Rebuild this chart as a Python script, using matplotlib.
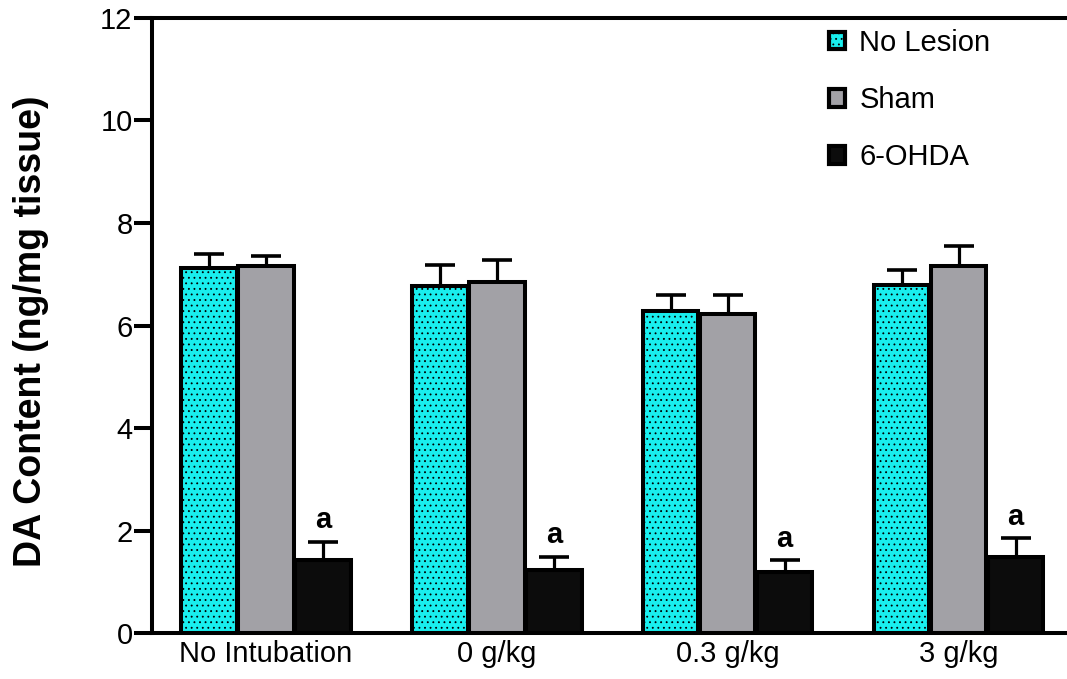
import matplotlib.pyplot as plt
from matplotlib.patches import Patch
import numpy as np

plt.rcParams["font.family"] = ["Liberation Sans", "DejaVu Sans"]
plt.rcParams["hatch.linewidth"] = 0.6

groups = ["No Intubation", "0 g/kg", "0.3 g/kg", "3 g/kg"]
series = ["No Lesion", "Sham", "6-OHDA"]
no_lesion = [7.13, 6.77, 6.28, 6.79]
no_lesion_err = [0.27, 0.41, 0.32, 0.30]
sham = [7.16, 6.85, 6.22, 7.16]
sham_err = [0.20, 0.43, 0.38, 0.39]
ohda = [1.42, 1.23, 1.19, 1.48]
ohda_err = [0.36, 0.26, 0.23, 0.37]
marks = ["a", "a", "a", "a"]

colors = ["#19eeee", "#a2a1a6", "#0c0c0c"]
hatches = ["...", None, None]

fig = plt.figure(figsize=(10.67, 6.79), dpi=100)
ax = fig.add_axes([0.1425, 0.0677, 0.8575, 0.9058])

x = np.arange(len(groups))
width = 0.247
offsets = [-width, 0, width]
lw = 2.9

for vals, errs, off, col, h in zip([no_lesion, sham, ohda],
                                   [no_lesion_err, sham_err, ohda_err],
                                   offsets, colors, hatches):
    ax.bar(x + off, vals, width * 0.97, color=col, edgecolor="black",
           linewidth=lw, hatch=h, zorder=2)
    # upper error bars only
    ax.errorbar(x + off, vals, yerr=[np.zeros(len(vals)), errs], fmt="none",
                ecolor="black", elinewidth=2.3, capsize=11, capthick=2.6, zorder=1)

for xi, v, e, m in zip(x, ohda, ohda_err, marks):
    ax.text(xi + width, v + e + 0.15, m, ha="center", va="bottom",
            fontsize=21, fontweight="bold")

ax.set_xlim(-0.494, 3.47)
ax.set_ylim(0, 12)
ax.set_yticks([0, 2, 4, 6, 8, 10, 12])
ax.set_xticks(x)
ax.set_xticklabels(groups)
ax.tick_params(axis="y", length=13, width=lw, labelsize=21, pad=1)
ax.tick_params(axis="x", length=0, labelsize=21, pad=5)
ax.spines["right"].set_visible(False)
for s in ["left", "bottom", "top"]:
    ax.spines[s].set_linewidth(lw)

ax.set_ylabel("DA Content (ng/mg tissue)", fontsize=27, fontweight="bold")
ax.yaxis.set_label_coords(-0.113, 0.49)

handles = [Patch(facecolor=c, edgecolor="black", linewidth=3, hatch=h)
           for c, h in zip(colors, hatches)]
ax.legend(handles, series, loc="upper left", bbox_to_anchor=(0.711, 1.025),
          frameon=False, fontsize=21, handlelength=0.55, handleheight=0.55,
          handletextpad=0.5, labelspacing=1.0)

fig.savefig("out.png", dpi=100)
